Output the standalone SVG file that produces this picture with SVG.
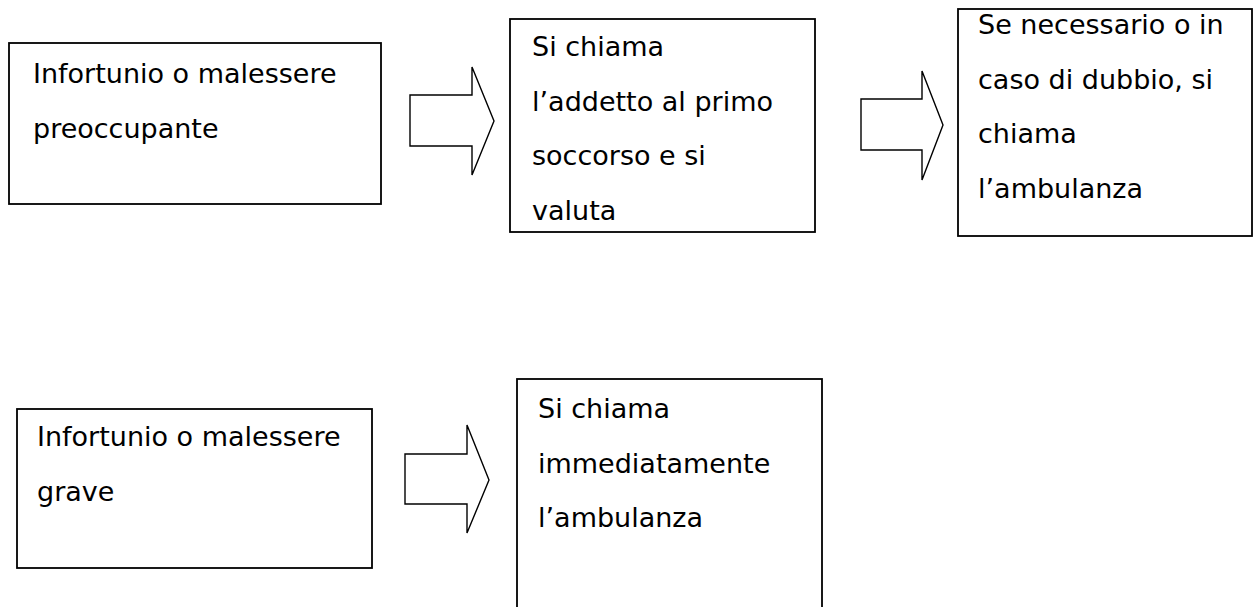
<svg xmlns="http://www.w3.org/2000/svg" width="1253" height="607" viewBox="0 0 1253 607">
<style>
.box{fill:#fff;stroke:#000;stroke-width:1.8}
.arr{fill:#fff;stroke:#000;stroke-width:1.4;stroke-linejoin:miter}
text{font-family:"DejaVu Sans","Liberation Sans",sans-serif;font-size:27px;fill:#000}
</style>
<rect width="1253" height="607" fill="#fff"/>
<g id="connectors">
<polygon class="arr" points="410,95 472,95 472,67 494,121 472,175 472,146 410,146"/>
<polygon class="arr" points="861,99 922,99 922,71 943,125 922,180 922,150 861,150"/>
<polygon class="arr" points="405,454 467,454 467,425 489,480 467,533 467,504 405,504"/>
</g>
<g id="n1">
<rect class="box" x="9" y="43" width="372" height="161"/>
<text x="33" y="83">Infortunio o malessere</text>
<text x="33" y="138">preoccupante</text>
</g>
<g id="n2">
<rect class="box" x="510" y="19" width="305" height="213"/>
<text x="532" y="56">Si chiama</text>
<text x="532" y="111">l’addetto al primo</text>
<text x="532" y="165">soccorso e si</text>
<text x="532" y="220">valuta</text>
</g>
<g id="n3">
<rect class="box" x="958" y="9" width="294" height="227"/>
<text x="978" y="34">Se necessario o in</text>
<text x="978" y="89">caso di dubbio, si</text>
<text x="978" y="143">chiama</text>
<text x="978" y="198">l’ambulanza</text>
</g>
<g id="n4">
<rect class="box" x="17" y="409" width="355" height="159"/>
<text x="37" y="446">Infortunio o malessere</text>
<text x="37" y="501">grave</text>
</g>
<g id="n5">
<rect class="box" x="517" y="379" width="305" height="250"/>
<text x="538" y="418">Si chiama</text>
<text x="538" y="473">immediatamente</text>
<text x="538" y="527">l’ambulanza</text>
</g>
</svg>
